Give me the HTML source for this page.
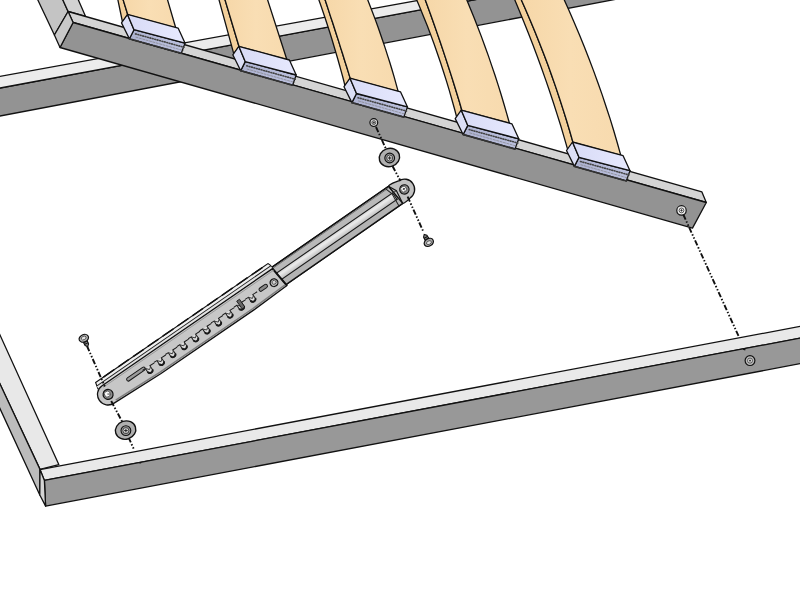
<!DOCTYPE html>
<html lang="en"><head><meta charset="utf-8"><title>Bed frame lift mechanism assembly</title>
<style>html,body{margin:0;padding:0;background:#fff;overflow:hidden;font-family:"Liberation Sans",sans-serif}svg{display:block}</style>
</head><body>
<svg width="800" height="600" viewBox="0 0 800 600" role="img" aria-label="Bed frame lift mechanism assembly">
<rect width="800" height="600" fill="#fff"/>
<path d="M-2.0,88.4 L640.0,-31.0 L640.0,-5.3 L-2.0,116.4Z" fill="#939393" stroke="#111" stroke-width="1.3" stroke-linejoin="round" />
<path d="M-2.0,76.7 L640.0,-39.9 L640.0,-31.0 L-2.0,88.4Z" fill="#ececec" stroke="#111" stroke-width="1.3" stroke-linejoin="round" />
<path d="M36.9,-2.0 L62.0,-2.0 L68.1,11.5 L54.4,35.0Z" fill="#c4c4c4" stroke="#111" stroke-width="1.3" stroke-linejoin="round" />
<path d="M62.0,-2.0 L77.5,-2.0 L85.6,16.4 L68.1,11.5Z" fill="#d2d2d2" stroke="#111" stroke-width="1.3" stroke-linejoin="round" />
<path d="M68.1,11.5 L701.9,191.9 L706.3,202.5 L73.1,22.5Z" fill="#d4d4d4" stroke="#111" stroke-width="1.3" stroke-linejoin="round" />
<path d="M73.1,22.5 L706.3,202.5 L692.5,228.1 L60.0,47.5Z" fill="#939393" stroke="#111" stroke-width="1.3" stroke-linejoin="round" />
<path d="M68.1,11.5 L73.1,22.5 L60.0,47.5 L54.4,35.0Z" fill="#c9c9c9" stroke="#111" stroke-width="1.3" stroke-linejoin="round" />
<defs><linearGradient id="wood" x1="0" y1="0" x2="1" y2="0"><stop offset="0" stop-color="#f6d7a8"/><stop offset="0.5" stop-color="#f9deb4"/><stop offset="1" stop-color="#f7daae"/></linearGradient><linearGradient id="capTop" x1="0" y1="0" x2="1" y2="0"><stop offset="0" stop-color="#d8dbf6"/><stop offset="1" stop-color="#e7e9fe"/></linearGradient><linearGradient id="capFront" x1="0" y1="0" x2="1" y2="0"><stop offset="0" stop-color="#adb2d0"/><stop offset="1" stop-color="#bcc1de"/></linearGradient></defs>
<path d="M117.5,-2.0L122.5,22.0L127.8,14.8L122.6,-2.0Z" fill="#f3d09b" stroke="#111" stroke-width="1.3" stroke-linejoin="round"/>
<path d="M122.6,-2.0L127.8,14.8L175.7,27.8L167.0,-2.0Z" fill="url(#wood)" stroke="#111" stroke-width="1.3" stroke-linejoin="round"/>
<path d="M218.5,-2.0L233.8,53.9L239.1,46.7L224.5,-2.0Z" fill="#f3d09b" stroke="#111" stroke-width="1.3" stroke-linejoin="round"/>
<path d="M224.5,-2.0L239.1,46.7L286.9,59.7L267.0,-2.0Z" fill="url(#wood)" stroke="#111" stroke-width="1.3" stroke-linejoin="round"/>
<path d="M318.2,-2.0L320.6,4.8L322.9,11.5L325.2,18.3L327.4,25.0L329.6,31.8L331.7,38.5L333.7,45.3L335.7,52.0L337.7,58.8L339.6,65.5L341.5,72.3L343.3,79.0L345.0,85.8L350.3,78.6L348.4,72.4L346.5,66.2L344.5,60.0L342.6,53.8L340.6,47.6L338.7,41.4L336.7,35.2L334.7,29.0L332.7,22.8L330.6,16.6L328.6,10.4L326.6,4.2L324.5,-2.0Z" fill="#f3d09b" stroke="#111" stroke-width="1.3" stroke-linejoin="round"/>
<path d="M324.5,-2.0L326.6,4.2L328.6,10.4L330.6,16.6L332.7,22.8L334.7,29.0L336.7,35.2L338.7,41.4L340.6,47.6L342.6,53.8L344.5,60.0L346.5,66.2L348.4,72.4L350.3,78.6L398.2,91.6L396.2,84.4L394.2,77.2L392.1,70.0L389.9,62.8L387.6,55.6L385.3,48.4L382.9,41.2L380.4,34.0L377.9,26.8L375.3,19.6L372.6,12.4L369.8,5.2L367.0,-2.0Z" fill="url(#wood)" stroke="#111" stroke-width="1.3" stroke-linejoin="round"/>
<path d="M415.9,-2.0L419.8,7.2L423.5,16.4L427.2,25.6L430.7,34.8L434.1,44.0L437.3,53.2L440.5,62.5L443.5,71.7L446.4,80.9L449.2,90.1L451.8,99.3L454.4,108.5L456.8,117.7L461.9,110.5L459.4,101.8L456.8,93.2L454.1,84.5L451.4,75.9L448.6,67.2L445.8,58.6L442.9,49.9L440.0,41.3L437.0,32.6L434.0,24.0L430.9,15.3L427.8,6.7L424.6,-2.0Z" fill="#f3d09b" stroke="#111" stroke-width="1.3" stroke-linejoin="round"/>
<path d="M424.6,-2.0L427.8,6.7L430.9,15.3L434.0,24.0L437.0,32.6L440.0,41.3L442.9,49.9L445.8,58.6L448.6,67.2L451.4,75.9L454.1,84.5L456.8,93.2L459.4,101.8L461.9,110.5L509.5,123.5L506.8,113.8L504.0,104.2L501.1,94.5L498.1,84.9L495.0,75.2L491.7,65.6L488.4,55.9L484.9,46.3L481.4,36.6L477.7,27.0L473.9,17.3L470.0,7.7L466.0,-2.0Z" fill="url(#wood)" stroke="#111" stroke-width="1.3" stroke-linejoin="round"/>
<path d="M514.0,-2.0L518.9,9.7L523.6,21.3L528.3,33.0L532.8,44.6L537.2,56.3L541.5,68.0L545.6,79.6L549.6,91.3L553.5,103.0L557.2,114.6L560.9,126.3L564.3,137.9L567.7,149.6L573.0,142.4L569.8,131.3L566.5,120.2L563.0,109.1L559.4,98.0L555.7,86.9L551.8,75.8L547.8,64.6L543.6,53.5L539.3,42.4L534.8,31.3L530.2,20.2L525.4,9.1L520.5,-2.0Z" fill="#f3d09b" stroke="#111" stroke-width="1.3" stroke-linejoin="round"/>
<path d="M520.5,-2.0L525.4,9.1L530.2,20.2L534.8,31.3L539.3,42.4L543.6,53.5L547.8,64.6L551.8,75.8L555.7,86.9L559.4,98.0L563.0,109.1L566.5,120.2L569.8,131.3L573.0,142.4L620.8,155.4L617.4,143.3L613.9,131.2L610.2,119.1L606.2,107.0L602.2,94.9L597.9,82.8L593.5,70.6L588.9,58.5L584.2,46.4L579.2,34.3L574.1,22.2L568.8,10.1L563.4,-2.0Z" fill="url(#wood)" stroke="#111" stroke-width="1.3" stroke-linejoin="round"/>
<path d="M134.0,29.7 L185.0,43.1 L181.3,53.3 L129.4,38.8Z" fill="url(#capFront)" stroke="#111" stroke-width="1.3" stroke-linejoin="round" />
<path d="M127.5,14.4 L134.0,29.7 L129.4,38.8 L121.5,22.9Z" fill="#dcdff6" stroke="#111" stroke-width="1.3" stroke-linejoin="round" />
<path d="M127.5,14.4 L178.1,28.1 L185.0,43.1 L134.0,29.7Z" fill="url(#capTop)" stroke="#111" stroke-width="1.3" stroke-linejoin="round" />
<path d="M135.5,33.9 L184.0,47.3" fill="none" stroke="#444" stroke-width="1.6" stroke-linecap="round" stroke-dasharray="0.8 1.7"/>
<path d="M136.0,37.2 L183.5,50.6" fill="none" stroke="#777" stroke-width="0.6" stroke-linecap="round" stroke-dasharray="2 1.5"/>
<path d="M129.4,38.8 L181.3,53.3" fill="none" stroke="#333" stroke-width="1.8" stroke-linecap="round" stroke-dasharray="1.2 1.6"/>
<path d="M245.2,61.6 L296.2,75.0 L292.6,85.2 L240.7,70.7Z" fill="url(#capFront)" stroke="#111" stroke-width="1.3" stroke-linejoin="round" />
<path d="M238.8,46.3 L245.2,61.6 L240.7,70.7 L232.8,54.8Z" fill="#dcdff6" stroke="#111" stroke-width="1.3" stroke-linejoin="round" />
<path d="M238.8,46.3 L289.4,60.0 L296.2,75.0 L245.2,61.6Z" fill="url(#capTop)" stroke="#111" stroke-width="1.3" stroke-linejoin="round" />
<path d="M246.8,65.8 L295.2,79.2" fill="none" stroke="#444" stroke-width="1.6" stroke-linecap="round" stroke-dasharray="0.8 1.7"/>
<path d="M247.2,69.1 L294.8,82.5" fill="none" stroke="#777" stroke-width="0.6" stroke-linecap="round" stroke-dasharray="2 1.5"/>
<path d="M240.7,70.7 L292.6,85.2" fill="none" stroke="#333" stroke-width="1.8" stroke-linecap="round" stroke-dasharray="1.2 1.6"/>
<path d="M356.5,93.5 L407.5,106.9 L403.8,117.1 L351.9,102.6Z" fill="url(#capFront)" stroke="#111" stroke-width="1.3" stroke-linejoin="round" />
<path d="M350.0,78.2 L356.5,93.5 L351.9,102.6 L344.0,86.7Z" fill="#dcdff6" stroke="#111" stroke-width="1.3" stroke-linejoin="round" />
<path d="M350.0,78.2 L400.6,91.9 L407.5,106.9 L356.5,93.5Z" fill="url(#capTop)" stroke="#111" stroke-width="1.3" stroke-linejoin="round" />
<path d="M358.0,97.7 L406.5,111.1" fill="none" stroke="#444" stroke-width="1.6" stroke-linecap="round" stroke-dasharray="0.8 1.7"/>
<path d="M358.5,101.0 L406.0,114.4" fill="none" stroke="#777" stroke-width="0.6" stroke-linecap="round" stroke-dasharray="2 1.5"/>
<path d="M351.9,102.6 L403.8,117.1" fill="none" stroke="#333" stroke-width="1.8" stroke-linecap="round" stroke-dasharray="1.2 1.6"/>
<path d="M467.8,125.4 L518.8,138.8 L515.0,149.0 L463.1,134.5Z" fill="url(#capFront)" stroke="#111" stroke-width="1.3" stroke-linejoin="round" />
<path d="M461.2,110.1 L467.8,125.4 L463.1,134.5 L455.2,118.6Z" fill="#dcdff6" stroke="#111" stroke-width="1.3" stroke-linejoin="round" />
<path d="M461.2,110.1 L511.9,123.8 L518.8,138.8 L467.8,125.4Z" fill="url(#capTop)" stroke="#111" stroke-width="1.3" stroke-linejoin="round" />
<path d="M469.2,129.6 L517.8,143.0" fill="none" stroke="#444" stroke-width="1.6" stroke-linecap="round" stroke-dasharray="0.8 1.7"/>
<path d="M469.8,132.9 L517.2,146.3" fill="none" stroke="#777" stroke-width="0.6" stroke-linecap="round" stroke-dasharray="2 1.5"/>
<path d="M463.1,134.5 L515.0,149.0" fill="none" stroke="#333" stroke-width="1.8" stroke-linecap="round" stroke-dasharray="1.2 1.6"/>
<path d="M579.0,157.3 L630.0,170.7 L626.3,180.9 L574.4,166.4Z" fill="url(#capFront)" stroke="#111" stroke-width="1.3" stroke-linejoin="round" />
<path d="M572.5,142.0 L579.0,157.3 L574.4,166.4 L566.5,150.5Z" fill="#dcdff6" stroke="#111" stroke-width="1.3" stroke-linejoin="round" />
<path d="M572.5,142.0 L623.1,155.7 L630.0,170.7 L579.0,157.3Z" fill="url(#capTop)" stroke="#111" stroke-width="1.3" stroke-linejoin="round" />
<path d="M580.5,161.5 L629.0,174.9" fill="none" stroke="#444" stroke-width="1.6" stroke-linecap="round" stroke-dasharray="0.8 1.7"/>
<path d="M581.0,164.8 L628.5,178.2" fill="none" stroke="#777" stroke-width="0.6" stroke-linecap="round" stroke-dasharray="2 1.5"/>
<path d="M574.4,166.4 L626.3,180.9" fill="none" stroke="#333" stroke-width="1.8" stroke-linecap="round" stroke-dasharray="1.2 1.6"/>
<path d="M-2.0,330.6 L58.8,464.6 L40.0,469.4 L-2.0,379.7Z" fill="#e8e8e8" stroke="#111" stroke-width="1.3" stroke-linejoin="round" />
<path d="M-2.0,379.7 L40.0,469.4 L39.8,495.0 L-2.0,404.3Z" fill="#bcbcbc" stroke="#111" stroke-width="1.3" stroke-linejoin="round" />
<path d="M40.0,469.6 L802.0,326.0 L802.0,337.8 L44.4,480.4Z" fill="#e9e9e9" stroke="#111" stroke-width="1.3" stroke-linejoin="round" />
<path d="M44.4,480.4 L802.0,337.8 L802.0,363.3 L45.6,506.1Z" fill="#989898" stroke="#111" stroke-width="1.3" stroke-linejoin="round" />
<path d="M40.0,469.6 L44.4,480.4 L45.6,506.1 L39.8,495.0Z" fill="#d4d4d4" stroke="#111" stroke-width="1.3" stroke-linejoin="round" />
<defs><linearGradient id="strip" x1="0" y1="0" x2="0" y2="1"><stop offset="0" stop-color="#d0d0d0"/><stop offset="0.35" stop-color="#ececec"/><stop offset="1" stop-color="#bebebe"/></linearGradient></defs>
<g transform="translate(108.1,394.4) rotate(-34.68)">
<path d="M200,-11.4 L349,-11.6 L351,10.6 L200,11Z" fill="#b9b9b9" stroke="#111" stroke-width="1.3"/>
<path d="M200,4.1 L349.5,4.1 L351,10.6 L200,11Z" fill="#b3b3b3" stroke="none"/>
<rect x="200" y="-3.9" width="148.5" height="8" fill="url(#strip)" stroke="#1a1a1a" stroke-width="1.1"/>
<path d="M200,-10.0 L348,-10.2" stroke="#555" stroke-width="0.7" fill="none"/>
<path d="M200,-11.4 L349,-11.6 M200,11 L351,10.6" stroke="#111" stroke-width="1.4" fill="none"/>
<path d="M349,-11.6 C352,-13.2 356,-11.2 360.3,-10.3 A10.3,10.3 0 1 1 360.3,10.3 C356,11.2 353,11.6 351,10.6 Z" fill="#c2c2c2" stroke="#111" stroke-width="1.3"/>
<path d="M349,-11.6 L353,-3.5 L351,10.6" fill="none" stroke="#111" stroke-width="1.1"/>
<path d="M345.2,-11.5 L347.6,-3.8 L346.4,10.6" fill="none" stroke="#222" stroke-width="1.0"/>
<path d="M347.6,-3.8 L353,-3.5 M347.2,4.1 L352.3,4.1" fill="none" stroke="#222" stroke-width="0.8"/>
<circle cx="360.3" cy="0" r="4.7" fill="#8a8a8a" stroke="#111" stroke-width="1.1"/>
<circle cx="359.8" cy="-0.6" r="2.9" fill="#fafafa" stroke="#333" stroke-width="0.7"/>
<path d="M358.6,-0.6 h3 M360,-2 v3" stroke="#333" stroke-width="0.8"/>
<path d="M-3.5,-16.9 L205.9,-16.6 Q207.5,-14 206.9,-9.8 L-5.1,-10.6 Z" fill="#f0f0f0" stroke="#111" stroke-width="1.1"/>
<path d="M-4.6,-11.8 L206.8,-11.5" stroke="#e2e2e2" stroke-width="2.6" fill="none"/>
<path d="M-4.3,-13.4 L206.8,-13.2" stroke="#1a1a1a" stroke-width="1.0" fill="none"/>
<path d="M6,-16.9 L200,-16.6" stroke="#111" stroke-width="1.5" stroke-dasharray="13 5" fill="none"/>
<path d="M0,-10.6 L206.8,-9.9 L209,12.3 L168,13.5 L55,12.9 L0,10.6 A10.6,10.6 0 0 1 0,-10.6 Z" fill="#c7c7c7" stroke="#111" stroke-width="1.3" stroke-linejoin="round"/>
<path d="M206.8,-9.9 L209,12.3" stroke="#111" stroke-width="2" fill="none"/>
<path d="M3,9.0 L55,11.2 L168,11.8 L208,10.6" stroke="#7e7e7e" stroke-width="1.5" fill="none"/>
<path d="M0,-8.6 L206.8,-7.9" stroke="#9a9a9a" stroke-width="0.9" fill="none"/>
<circle cx="0" cy="0" r="5.0" fill="#8c8c8c" stroke="#111" stroke-width="1.2"/>
<circle cx="-0.4" cy="-0.7" r="3.0" fill="#fafafa" stroke="#333" stroke-width="0.7"/>
<path d="M-0.4,-0.7 l2.2,1.6" stroke="#333" stroke-width="0.8"/>
<rect x="23.5" y="-2.6" width="22" height="3.4" rx="1.7" fill="#9c9c9c" stroke="#1a1a1a" stroke-width="1.0"/>
<path d="M42.0,-0.2 L45.5,0 L45.3,4.0 A2.7,2.7 0 0 0 50.7,4.4 L50.6,0.2 L55.9,0.4" fill="#dedede" stroke="#1a1a1a" stroke-width="1.0" stroke-linejoin="round"/>
<path d="M45.4,4.0 A2.7,2.7 0 0 0 50.7,4.6" fill="none" stroke="#1a1a1a" stroke-width="1.9"/>
<path d="M45.5,0 L48.3,3.2 L50.6,1.4" stroke="#3a3a3a" stroke-width="0.9" fill="none"/>
<path d="M55.9,-0.2 L59.4,0 L59.2,4.0 A2.7,2.7 0 0 0 64.6,4.4 L64.5,0.2 L69.8,0.4" fill="#dedede" stroke="#1a1a1a" stroke-width="1.0" stroke-linejoin="round"/>
<path d="M59.3,4.0 A2.7,2.7 0 0 0 64.6,4.6" fill="none" stroke="#1a1a1a" stroke-width="1.9"/>
<path d="M59.4,0 L62.2,3.2 L64.5,1.4" stroke="#3a3a3a" stroke-width="0.9" fill="none"/>
<path d="M69.8,-0.2 L73.3,0 L73.1,4.0 A2.7,2.7 0 0 0 78.5,4.4 L78.4,0.2 L83.7,0.4" fill="#dedede" stroke="#1a1a1a" stroke-width="1.0" stroke-linejoin="round"/>
<path d="M73.2,4.0 A2.7,2.7 0 0 0 78.5,4.6" fill="none" stroke="#1a1a1a" stroke-width="1.9"/>
<path d="M73.3,0 L76.1,3.2 L78.4,1.4" stroke="#3a3a3a" stroke-width="0.9" fill="none"/>
<path d="M83.7,-0.2 L87.2,0 L87.0,4.0 A2.7,2.7 0 0 0 92.4,4.4 L92.3,0.2 L97.6,0.4" fill="#dedede" stroke="#1a1a1a" stroke-width="1.0" stroke-linejoin="round"/>
<path d="M87.1,4.0 A2.7,2.7 0 0 0 92.4,4.6" fill="none" stroke="#1a1a1a" stroke-width="1.9"/>
<path d="M87.2,0 L90.0,3.2 L92.3,1.4" stroke="#3a3a3a" stroke-width="0.9" fill="none"/>
<path d="M97.6,-0.2 L101.1,0 L100.9,4.0 A2.7,2.7 0 0 0 106.3,4.4 L106.2,0.2 L111.5,0.4" fill="#dedede" stroke="#1a1a1a" stroke-width="1.0" stroke-linejoin="round"/>
<path d="M101.0,4.0 A2.7,2.7 0 0 0 106.3,4.6" fill="none" stroke="#1a1a1a" stroke-width="1.9"/>
<path d="M101.1,0 L103.9,3.2 L106.2,1.4" stroke="#3a3a3a" stroke-width="0.9" fill="none"/>
<path d="M111.5,-0.2 L115.0,0 L114.8,4.0 A2.7,2.7 0 0 0 120.2,4.4 L120.1,0.2 L125.4,0.4" fill="#dedede" stroke="#1a1a1a" stroke-width="1.0" stroke-linejoin="round"/>
<path d="M114.9,4.0 A2.7,2.7 0 0 0 120.2,4.6" fill="none" stroke="#1a1a1a" stroke-width="1.9"/>
<path d="M115.0,0 L117.8,3.2 L120.1,1.4" stroke="#3a3a3a" stroke-width="0.9" fill="none"/>
<path d="M125.4,-0.2 L128.9,0 L128.7,4.0 A2.7,2.7 0 0 0 134.1,4.4 L134.0,0.2 L139.3,0.4" fill="#dedede" stroke="#1a1a1a" stroke-width="1.0" stroke-linejoin="round"/>
<path d="M128.8,4.0 A2.7,2.7 0 0 0 134.1,4.6" fill="none" stroke="#1a1a1a" stroke-width="1.9"/>
<path d="M128.9,0 L131.7,3.2 L134.0,1.4" stroke="#3a3a3a" stroke-width="0.9" fill="none"/>
<path d="M139.3,-0.2 L142.8,0 L142.6,4.0 A2.7,2.7 0 0 0 148.0,4.4 L147.9,0.2 L153.2,0.4" fill="#dedede" stroke="#1a1a1a" stroke-width="1.0" stroke-linejoin="round"/>
<path d="M142.7,4.0 A2.7,2.7 0 0 0 148.0,4.6" fill="none" stroke="#1a1a1a" stroke-width="1.9"/>
<path d="M142.8,0 L145.6,3.2 L147.9,1.4" stroke="#3a3a3a" stroke-width="0.9" fill="none"/>
<path d="M153.2,-0.2 L156.7,0 L156.5,4.0 A2.7,2.7 0 0 0 161.9,4.4 L161.8,0.2 L167.1,0.4" fill="#dedede" stroke="#1a1a1a" stroke-width="1.0" stroke-linejoin="round"/>
<path d="M156.6,4.0 A2.7,2.7 0 0 0 161.9,4.6" fill="none" stroke="#1a1a1a" stroke-width="1.9"/>
<path d="M156.7,0 L159.5,3.2 L161.8,1.4" stroke="#3a3a3a" stroke-width="0.9" fill="none"/>
<path d="M167.1,-0.2 L170.6,0 L170.4,4.0 A2.7,2.7 0 0 0 175.8,4.4 L175.7,0.2 L181.0,0.4" fill="#dedede" stroke="#1a1a1a" stroke-width="1.0" stroke-linejoin="round"/>
<path d="M170.5,4.0 A2.7,2.7 0 0 0 175.8,4.6" fill="none" stroke="#1a1a1a" stroke-width="1.9"/>
<path d="M170.6,0 L173.4,3.2 L175.7,1.4" stroke="#3a3a3a" stroke-width="0.9" fill="none"/>
<rect x="158.8" y="-3.5" width="3.4" height="9.5" fill="#666" stroke="#111" stroke-width="0.8"/>
<rect x="183.5" y="-1.2" width="9.5" height="3.6" rx="1.8" fill="#8a8a8a" stroke="#1a1a1a" stroke-width="1.0"/>
<circle cx="200" cy="2.5" r="3.9" fill="#b9b9b9" stroke="#111" stroke-width="1.2"/>
<circle cx="200.3" cy="2.2" r="2.0" fill="#d4d4d4" stroke="#333" stroke-width="0.7"/>
</g>
<path d="M376,127 L386,149" stroke="#111" stroke-width="1.9" fill="none" stroke-dasharray="5.6 1.9 1.5 1.9 1.5 1.8"/>
<path d="M392.5,166 L400.5,181" stroke="#111" stroke-width="1.9" fill="none" stroke-dasharray="5.6 1.9 1.5 1.9 1.5 1.8"/>
<path d="M407.6,196.6 L423.6,232.2" stroke="#111" stroke-width="1.9" fill="none" stroke-dasharray="5.6 1.9 1.5 1.9 1.5 1.8"/>
<path d="M683.3,214.5 L739.1,337.3" stroke="#111" stroke-width="1.9" fill="none" stroke-dasharray="5.6 1.9 1.5 1.9 1.5 1.8"/>
<path d="M87,346 L104.8,386.5" stroke="#111" stroke-width="1.9" fill="none" stroke-dasharray="5.6 1.9 1.5 1.9 1.5 1.8"/>
<path d="M111.2,401 L122.1,421.6" stroke="#111" stroke-width="1.9" fill="none" stroke-dasharray="5.6 1.9 1.5 1.9 1.5 1.8"/>
<path d="M128.5,437.3 L134,449.5" stroke="#111" stroke-width="1.9" fill="none" stroke-dasharray="5.6 1.9 1.5 1.9 1.5 1.8"/>
<circle cx="373.8" cy="122.6" r="3.9" fill="#d8d8d8" stroke="#111" stroke-width="1.2"/>
<circle cx="373.8" cy="122.6" r="1.9" fill="#eee" stroke="#333" stroke-width="0.8"/>
<path d="M372.6,122.6 h2.4 M373.8,121.39999999999999 v2.4" stroke="#222" stroke-width="0.8"/>
<circle cx="681.5" cy="210.4" r="4.7" fill="#eee" stroke="#111" stroke-width="1.2"/>
<circle cx="681.5" cy="210.4" r="2.4" fill="#eee" stroke="#333" stroke-width="0.8"/>
<path d="M680.3,210.4 h2.4 M681.5,209.20000000000002 v2.4" stroke="#222" stroke-width="0.8"/>
<circle cx="750" cy="360.6" r="4.9" fill="#b8b8b8" stroke="#111" stroke-width="1.2"/>
<circle cx="750" cy="360.6" r="2.5" fill="#eee" stroke="#333" stroke-width="0.8"/>
<path d="M748.8,360.6 h2.4 M750,359.40000000000003 v2.4" stroke="#222" stroke-width="0.8"/>
<path d="M743,349 l2.4,0.6" stroke="#111" stroke-width="1.6"/>
<path d="M139,462.6 l2.2,0.3" stroke="#111" stroke-width="1.4"/>
<ellipse cx="389.4" cy="157.5" rx="10.3" ry="9.1" fill="#b0b0b0" stroke="#111" stroke-width="1.4" transform="rotate(-18 389.4 157.5)"/>
<circle cx="389.7" cy="158.0" r="4.9" fill="#9c9c9c" stroke="#111" stroke-width="1.1"/>
<circle cx="389.7" cy="158.0" r="3.0" fill="#dadada" stroke="#222" stroke-width="0.8"/>
<path d="M387.9,158.0 h3.6 M389.7,156.2 v3.6" stroke="#111" stroke-width="0.9"/>
<ellipse cx="125.6" cy="430.1" rx="10.3" ry="9.1" fill="#b0b0b0" stroke="#111" stroke-width="1.4" transform="rotate(-18 125.6 430.1)"/>
<circle cx="125.89999999999999" cy="430.6" r="4.9" fill="#9c9c9c" stroke="#111" stroke-width="1.1"/>
<circle cx="125.89999999999999" cy="430.6" r="3.0" fill="#dadada" stroke="#222" stroke-width="0.8"/>
<path d="M124.1,430.6 h3.6 M125.89999999999999,428.8 v3.6" stroke="#111" stroke-width="0.9"/>
<g transform="translate(83.8,338.3) rotate(-25)">
<path d="M-2.2,1.5 L-1.9,7.2 L0,9.2 L1.9,7.2 L2.2,1.5Z" fill="#8a8a8a" stroke="#111" stroke-width="1.1"/>
<path d="M-2.3,3.8 h4.6 M-2.2,5.8 h4.4" stroke="#111" stroke-width="1.0"/>
<ellipse cx="0" cy="0" rx="4.9" ry="3.7" fill="#b5b5b5" stroke="#111" stroke-width="1.2"/>
<ellipse cx="0" cy="-0.3" rx="2.6" ry="1.7" fill="#e4e4e4" stroke="#333" stroke-width="0.7"/>
</g>
<g transform="translate(428.8,242.4) rotate(150)">
<path d="M-2.2,1.5 L-1.9,7.2 L0,9.2 L1.9,7.2 L2.2,1.5Z" fill="#8a8a8a" stroke="#111" stroke-width="1.1"/>
<path d="M-2.3,3.8 h4.6 M-2.2,5.8 h4.4" stroke="#111" stroke-width="1.0"/>
<ellipse cx="0" cy="0" rx="4.9" ry="3.7" fill="#a8a8a8" stroke="#111" stroke-width="1.2"/>
<ellipse cx="0" cy="-0.3" rx="2.6" ry="1.7" fill="#e4e4e4" stroke="#333" stroke-width="0.7"/>
</g>
</svg>
</body></html>
